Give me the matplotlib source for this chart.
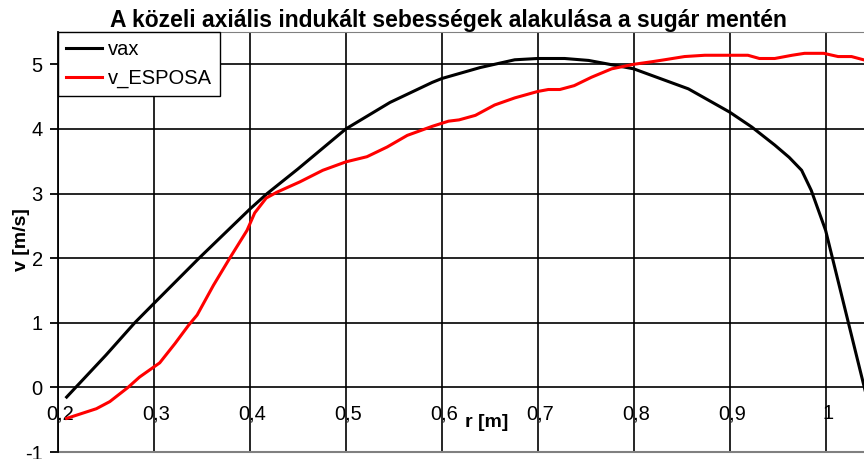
import matplotlib
matplotlib.use("Agg")
import matplotlib.pyplot as plt
from matplotlib.lines import Line2D
from matplotlib.transforms import ScaledTranslation

plt.rcParams['font.family'] = ['Liberation Sans', 'DejaVu Sans']

title = "A közeli axiális indukált sebességek alakulása a sugár mentén"
xlabel = "r [m]"
ylabel = "v [m/s]"

r_vax = [0.209, 0.25, 0.28, 0.30, 0.347, 0.40, 0.418, 0.45, 0.50, 0.546, 0.59, 0.60,
         0.64, 0.676, 0.70, 0.728, 0.753, 0.80, 0.857, 0.90, 0.923, 0.947, 0.962,
         0.975, 0.985, 1.0, 1.042]
vax = [-0.15, 0.5, 1.0, 1.3, 2.0, 2.76, 3.0, 3.38, 4.0, 4.41, 4.72, 4.78,
       4.95, 5.07, 5.09, 5.09, 5.06, 4.93, 4.62, 4.26, 4.03, 3.75, 3.56,
       3.36, 3.05, 2.43, -0.1]

r_esp = [0.209, 0.24, 0.254, 0.273, 0.285, 0.306, 0.322, 0.336, 0.345, 0.362, 0.379,
         0.397, 0.405, 0.417, 0.428, 0.452, 0.476, 0.50, 0.522, 0.543, 0.564, 0.59,
         0.607, 0.618, 0.635, 0.655, 0.676, 0.70, 0.711, 0.723, 0.738, 0.756, 0.777,
         0.80, 0.819, 0.832, 0.853, 0.874, 0.90, 0.919, 0.931, 0.947, 0.965, 0.978,
         0.998, 1.013, 1.027, 1.042]
v_esposa = [-0.48, -0.33, -0.22, 0.0, 0.16, 0.38, 0.68, 0.96, 1.12, 1.58, 2.0,
            2.43, 2.7, 2.93, 3.02, 3.18, 3.36, 3.49, 3.57, 3.72, 3.90, 4.04,
            4.12, 4.14, 4.21, 4.37, 4.48, 4.58, 4.61, 4.61, 4.67, 4.80, 4.93,
            5.0, 5.04, 5.07, 5.12, 5.14, 5.14, 5.14, 5.09, 5.09, 5.14, 5.17,
            5.17, 5.12, 5.12, 5.06]

xticks = [0.2, 0.3, 0.4, 0.5, 0.6, 0.7, 0.8, 0.9, 1.0]
xticklabels = ["0,2", "0,3", "0,4", "0,5", "0,6", "0,7", "0,8", "0,9", "1"]
yticks = [-1, 0, 1, 2, 3, 4, 5]
yticklabels = ["-1", "0", "1", "2", "3", "4", "5"]

W, H = 864, 459
fig = plt.figure(figsize=(W / 100, H / 100), dpi=100)
left, right, top, bottom = 58, 864, 32, 452
ax = fig.add_axes([left / W, (H - bottom) / H, (right - left) / W, (bottom - top) / H])
ax.set_xlim(0.2, 1.04)
ax.set_ylim(-1, 5.5)

ax.grid(True, color='black', linewidth=1.2)
ax.set_axisbelow(True)

ax.plot(r_vax, vax, color='black', linewidth=2.2, label='vax', clip_on=False)
ax.plot(r_esp, v_esposa, color='red', linewidth=2.2, label='v_ESPOSA')

ax.set_xticks(xticks)
ax.set_xticklabels(xticklabels)
ax.set_yticks(yticks)
ax.set_yticklabels(yticklabels)

ax.spines['bottom'].set_position(('data', 0))
ax.spines['bottom'].set_visible(False)
ax.spines['right'].set_visible(False)
ax.spines['top'].set_color('#808080')
ax.spines['left'].set_color('black')
ax.spines['left'].set_linewidth(1.3)
ax.add_line(Line2D([0, 1], [0, 0], transform=ax.transAxes, color='#808080',
                   linewidth=1.5, clip_on=False))

ax.tick_params(axis='x', length=0, pad=12, labelsize=14.5)
ax.tick_params(axis='y', length=6, width=1.3, pad=5, labelsize=14.5, direction='out')

shift = ScaledTranslation(2.5 / 100, 0, fig.dpi_scale_trans)
for lab in ax.get_xticklabels():
    lab.set_transform(lab.get_transform() + shift)

ax.text(0.647, -0.54, xlabel, fontsize=14, fontweight='bold', ha='center', va='center')
fig.text(21 / W, 1 - 240 / H, ylabel, fontsize=14, fontweight='bold', rotation=90,
         ha='center', va='center')
fig.text(448 / W, 1 - 26.7 / H, title, fontsize=16.5, fontweight='bold',
         ha='center', va='baseline')

leg = ax.legend(loc='upper left', bbox_to_anchor=(0, 1), borderaxespad=0,
                fontsize=14.5, fancybox=False, framealpha=1, edgecolor='black',
                handlelength=1.8, handletextpad=0.3, labelspacing=0.5,
                borderpad=0.4)
leg.get_frame().set_linewidth(1.0)

fig.savefig('out.png', dpi=100)
